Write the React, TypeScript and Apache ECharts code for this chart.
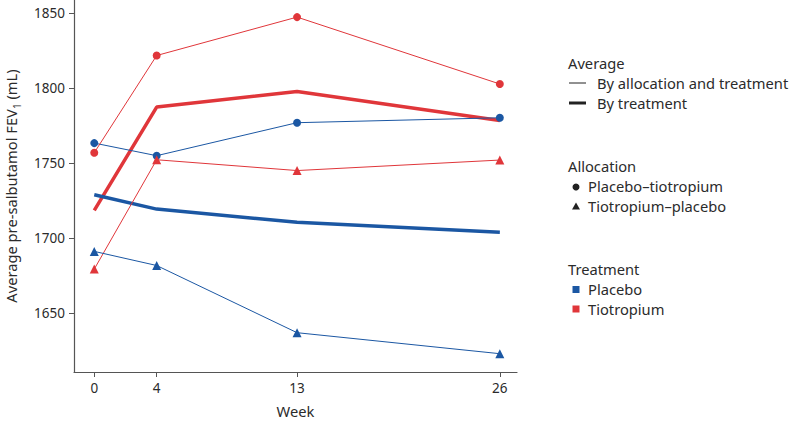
import React, { useEffect, useRef } from "react";
import * as echarts from "echarts";

const weeks = [0, 4, 13, 26];
const placeboTiotropiumPlacebo = [1763.3, 1754.9, 1776.9, 1780.2]; // circle, blue
const placeboTiotropiumTiotropium = [1756.9, 1821.7, 1847.3, 1802.7]; // circle, red
const tiotropiumPlaceboTiotropium = [1679.3, 1752.2, 1745.0, 1752.0]; // triangle, red
const tiotropiumPlaceboPlacebo = [1691.1, 1681.7, 1636.9, 1622.9]; // triangle, blue
const byTreatmentTiotropium = [1718.4, 1787.3, 1797.7, 1778.4];
const byTreatmentPlacebo = [1728.9, 1719.3, 1710.5, 1703.8];
const yTicks = [1650, 1700, 1750, 1800, 1850];

const BLUE = "#1b57a3";
const RED = "#e0363a";
const FONT = "Noto Sans";
const TEXT = "#2b2b2b";

const pairs = (ys: number[]) => weeks.map((w, i) => [w, ys[i]]);

export default function App() {
  const ref = useRef<HTMLDivElement>(null);
  useEffect(() => {
    const chart = echarts.init(ref.current!, null, { renderer: "svg" });
    const thin = (name: string, ys: number[], color: string, symbol: string, size: number) => ({
      name,
      type: "line",
      data: pairs(ys),
      symbol,
      symbolSize: size,
      lineStyle: { color, width: 1 },
      itemStyle: { color },
      z: 3,
    });
    const thick = (name: string, ys: number[], color: string) => ({
      name,
      type: "line",
      data: pairs(ys),
      showSymbol: false,
      symbol: "none",
      lineStyle: { color, width: 3.5 },
      z: 2,
    });
    const lx = 568;
    const legendText = (x: number, y: number, text: string) => ({
      type: "text",
      x,
      y,
      style: { text, fill: TEXT, font: `14.7px "${FONT}"`, textVerticalAlign: "middle" },
    });
    chart.setOption({
      animation: false,
      grid: { left: 74, top: 0, right: 276, bottom: 51, containLabel: false, outerBoundsMode: "none" },
      xAxis: {
        type: "value",
        min: -1.3,
        max: 27.1,
        name: "Week",
        nameLocation: "middle",
        nameGap: 31,
        nameTextStyle: { fontFamily: FONT, fontSize: 14.7, color: TEXT },
        axisLine: { show: true, onZero: false, lineStyle: { color: "#555", width: 1.2 } },
        axisTick: { show: true, customValues: weeks, length: 5, lineStyle: { color: "#555" } },
        axisLabel: { customValues: weeks, fontFamily: FONT, fontSize: 13.5, color: TEXT, margin: 9 },
        splitLine: { show: false },
      },
      yAxis: {
        type: "value",
        min: 1610.7,
        max: 1858.7,
        name: "{a|Average pre-salbutamol FEV}{s|1}{a| (mL)}",
        nameLocation: "middle",
        nameGap: 56,
        nameRotate: 90,
        nameTextStyle: {
          rich: {
            a: { fontFamily: FONT, fontSize: 14.7, color: TEXT, verticalAlign: "bottom" },
            s: { fontFamily: FONT, fontSize: 10, color: TEXT, verticalAlign: "bottom", padding: [0, 0, -4, 0] },
          },
        },
        axisLine: { show: true, onZero: false, lineStyle: { color: "#555", width: 1.2 } },
        axisTick: { show: true, customValues: yTicks, length: 5, lineStyle: { color: "#555" } },
        axisLabel: {
          customValues: yTicks,
          fontFamily: FONT,
          fontSize: 13.5,
          color: TEXT,
          margin: 9,
          formatter: (v: number) => String(v),
        },
        splitLine: { show: false },
      },
      series: [
        thick("By treatment – Tiotropium", byTreatmentTiotropium, RED),
        thick("By treatment – Placebo", byTreatmentPlacebo, BLUE),
        thin("Placebo–tiotropium, placebo", placeboTiotropiumPlacebo, BLUE, "circle", 8),
        thin("Placebo–tiotropium, tiotropium", placeboTiotropiumTiotropium, RED, "circle", 8),
        thin("Tiotropium–placebo, tiotropium", tiotropiumPlaceboTiotropium, RED, "triangle", 9),
        thin("Tiotropium–placebo, placebo", tiotropiumPlaceboPlacebo, BLUE, "triangle", 9),
      ],
      graphic: [
        legendText(lx, 63, "Average"),
        { type: "line", shape: { x1: 569, y1: 83, x2: 586, y2: 83 }, style: { stroke: "#222", lineWidth: 1 } },
        legendText(597, 83, "By allocation and treatment"),
        { type: "line", shape: { x1: 569, y1: 103, x2: 586, y2: 103 }, style: { stroke: "#222", lineWidth: 3 } },
        legendText(597, 103, "By treatment"),
        legendText(lx, 166, "Allocation"),
        { type: "circle", shape: { cx: 576, cy: 187, r: 3.5 }, style: { fill: "#222" } },
        legendText(588, 186, "Placebo–tiotropium"),
        { type: "polygon", shape: { points: [[576, 202.5], [580, 209.5], [572, 209.5]] }, style: { fill: "#222" } },
        legendText(588, 206, "Tiotropium–placebo"),
        legendText(lx, 269, "Treatment"),
        { type: "rect", shape: { x: 572.5, y: 286, width: 7, height: 7 }, style: { fill: BLUE } },
        legendText(588, 289, "Placebo"),
        { type: "rect", shape: { x: 572.5, y: 305.5, width: 7, height: 7 }, style: { fill: RED } },
        legendText(588, 309, "Tiotropium"),
      ],
    });
    return () => chart.dispose();
  }, []);
  return <div ref={ref} style={{ width: 793, height: 423, position: "absolute", left: 0, top: 0 }} />;
}
